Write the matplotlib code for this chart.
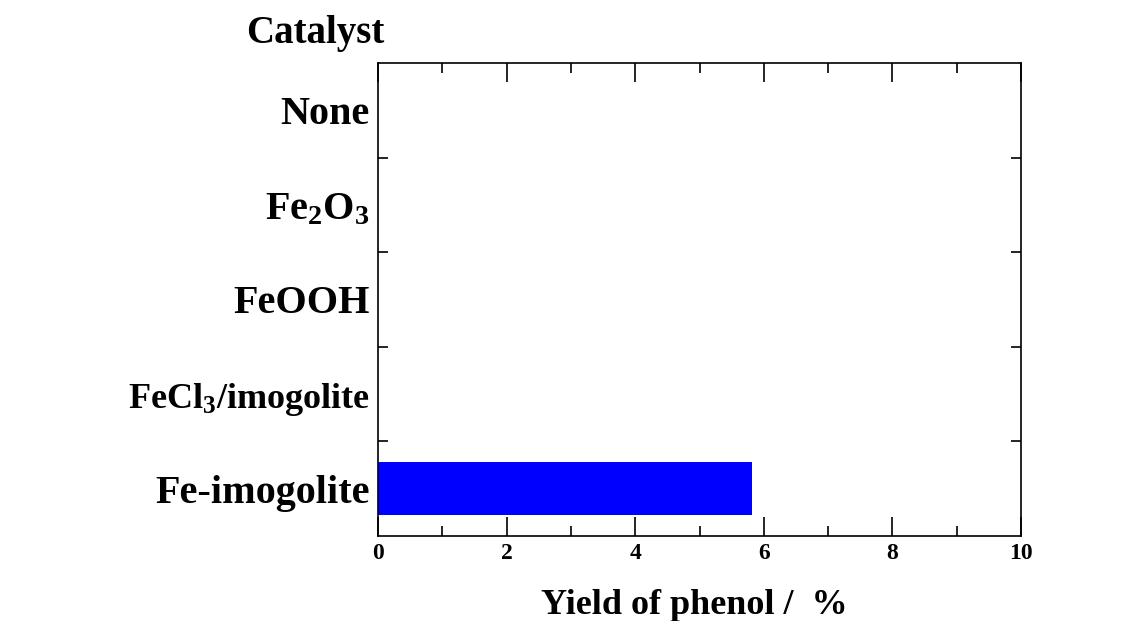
import matplotlib.pyplot as plt
from matplotlib.ticker import MultipleLocator, FixedLocator

# data (bottom to top)
catalysts = ['Fe-imogolite', 'FeCl$_3$/imogolite', 'FeOOH', 'Fe$_2$O$_3$', 'None']
yields = [5.82, 0, 0, 0, 0]
label_sizes = [29, 26, 29, 29, 29]

plt.rcParams['font.family'] = ['Liberation Serif', 'DejaVu Serif']
plt.rcParams['font.weight'] = 'bold'
plt.rcParams['mathtext.fontset'] = 'custom'
plt.rcParams['mathtext.rm'] = 'Liberation Serif:bold'
plt.rcParams['mathtext.it'] = 'Liberation Serif:bold'

fig = plt.figure(figsize=(11.38, 6.21), dpi=100)
ax = fig.add_axes([378 / 1138, 1 - 536 / 621, (1021 - 378) / 1138, (536 - 63) / 621])

pos = list(range(len(catalysts)))
ax.barh(pos, yields, height=0.56, color='#0000ff', edgecolor='none')

ax.set_xlim(0, 10)
ax.set_ylim(-0.5, len(catalysts) - 0.5)

ax.xaxis.set_major_locator(MultipleLocator(2))
ax.xaxis.set_minor_locator(MultipleLocator(1))
ax.tick_params(axis='x', which='major', direction='in', length=14, width=1.2,
               top=True, bottom=True, labelsize=17, pad=5)
ax.tick_params(axis='x', which='minor', direction='in', length=7, width=1.2,
               top=True, bottom=True)

ax.set_yticks(pos)
ax.set_yticklabels(catalysts)
for lab, s in zip(ax.get_yticklabels(), label_sizes):
    lab.set_fontsize(s)
ax.yaxis.set_minor_locator(FixedLocator([p + 0.5 for p in pos[:-1]]))
ax.tick_params(axis='y', which='major', length=0, pad=6)
ax.tick_params(axis='y', which='minor', direction='in', length=7, width=1.2,
               left=True, right=True)

for sp in ax.spines.values():
    sp.set_linewidth(1.2)

fig.text(694 / 1138, 1 - 605 / 621, 'Yield of phenol /  %', fontsize=26,
         fontweight='bold', ha='center', va='center')
fig.text(315 / 1138, 1 - 33 / 621, 'Catalyst', fontsize=28, fontweight='bold',
         ha='center', va='center')

fig.savefig('out.png', dpi=100)
